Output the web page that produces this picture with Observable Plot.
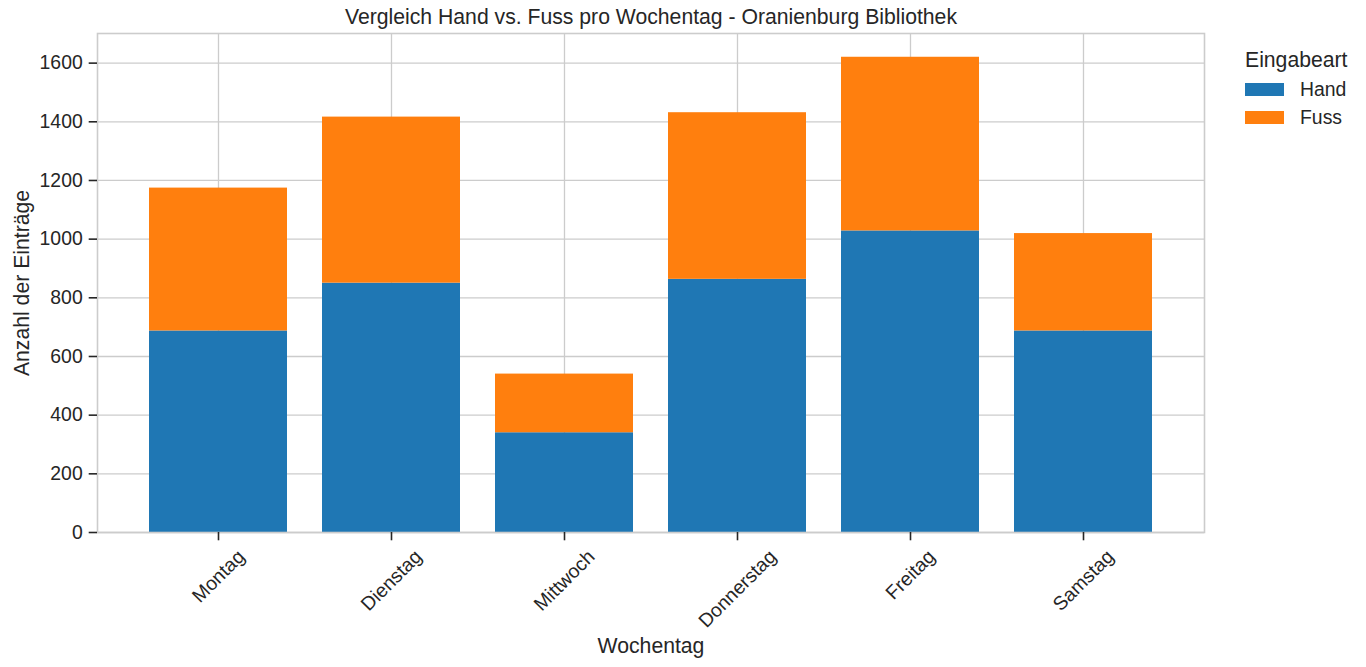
<!DOCTYPE html>
<html>
<head>
<meta charset="utf-8">
<script src="https://cdn.jsdelivr.net/npm/d3@7"></script>
<script src="https://cdn.jsdelivr.net/npm/@observablehq/plot@0.6"></script>
<style>
  html, body { margin: 0; padding: 0; background: #fff; }
  #wrap { position: relative; width: 1366px; height: 667px; overflow: hidden; font-family: "Liberation Sans", Arial, sans-serif; color: #262626; }
  #legend { position: absolute; left: 1245px; top: 44px; }
  #legend .ttl { font-size: 21.2px; line-height: 32px; height: 32px; white-space: nowrap; }
  #legend .row { display: flex; align-items: center; height: 27.5px; }
  #legend .sw { width: 39px; height: 13px; margin-right: 16px; }
  #legend .lb { font-size: 19.4px; }
</style>
</head>
<body>
<div id="wrap"></div>
<script>
const days = ["Montag", "Dienstag", "Mittwoch", "Donnerstag", "Freitag", "Samstag"];
const series = ["Hand", "Fuss"];
const handValues = [687, 850, 340, 863, 1028, 687];
const fussValues = [487, 566, 200, 568, 592, 332];
const colors = ["#1f77b4", "#ff7f0e"];
const yTicks = [0, 200, 400, 600, 800, 1000, 1200, 1400, 1600];
const titleText = "Vergleich Hand vs. Fuss pro Wochentag - Oranienburg Bibliothek";
const xLabel = "Wochentag";
const yLabel = "Anzahl der Einträge";
const legendTitle = "Eingabeart";

const data = [];
days.forEach((d, i) => {
  data.push({day: d, type: series[0], value: handValues[i]});
  data.push({day: d, type: series[1], value: fussValues[i]});
});

const FS = 19.4, FL = 21.2, INK = "#262626", GRID = "#cccccc";

const chart = Plot.plot({
  width: 1366,
  height: 667,
  marginLeft: 97,
  marginRight: 162,
  marginTop: 33,
  marginBottom: 135,
  style: {fontFamily: '"Liberation Sans", Arial, sans-serif', fontSize: FS + "px", color: INK, background: "white", overflow: "visible"},
  x: {domain: days, paddingInner: 0.2, paddingOuter: 0.288, axis: null, label: null},
  y: {domain: [0, 1701], axis: null, label: null},
  color: {domain: series, range: colors},
  marks: [
    Plot.gridY({ticks: yTicks, stroke: GRID, strokeOpacity: 1, strokeWidth: 1.3}),
    Plot.gridX({stroke: GRID, strokeOpacity: 1, strokeWidth: 1.3}),
    Plot.barY(data, {x: "day", y: "value", fill: "type", order: series}),
    Plot.frame({stroke: GRID, strokeWidth: 1.6}),
    Plot.axisY({ticks: yTicks, tickFormat: d => String(d), tickSize: 8.3, tickPadding: 6.5, label: null, stroke: INK, strokeWidth: 1.6, fontSize: FS, fill: INK}),
    Plot.axisX({tickSize: 8.3, tickFormat: () => "", label: null, stroke: INK, strokeWidth: 1.6}),
    Plot.text(days, {x: d => d, text: d => d, frameAnchor: "bottom", rotate: -45, textAnchor: "middle", lineAnchor: "middle", fontSize: FS, fill: INK, className: "xlab"}),
    Plot.text([titleText], {text: d => d, frameAnchor: "top", textAnchor: "middle", lineAnchor: "middle", dy: -16, fontSize: FL, fill: INK}),
    Plot.text([xLabel], {text: d => d, frameAnchor: "bottom", textAnchor: "middle", lineAnchor: "middle", dy: 114, fontSize: FL, fill: INK}),
    Plot.text([yLabel], {text: d => d, frameAnchor: "left", textAnchor: "middle", lineAnchor: "middle", dx: -75, rotate: -90, fontSize: FL, fill: INK})
  ]
});

const wrap = document.getElementById("wrap");
wrap.appendChild(chart);

// position rotated x tick labels like matplotlib (rotated bbox centered under tick, top below tick)
chart.querySelectorAll("g.xlab text").forEach(t => {
  const tr = t.getAttribute("transform") || "";
  const m = /translate\(\s*([-\d.e]+)\s*,\s*([-\d.e]+)\s*\)/.exec(tr);
  if (!m) return;
  const x = +m[1], y = +m[2];
  const w = t.getComputedTextLength();
  const H = (w + 1.15 * FS) * Math.SQRT1_2;
  t.setAttribute("transform", `translate(${x},${y + 8.3 + 4.9 + H / 2}) rotate(-45)`);
});

// legend
const lg = document.createElement("div");
lg.id = "legend";
const ttl = document.createElement("div");
ttl.className = "ttl";
ttl.textContent = legendTitle;
lg.appendChild(ttl);
series.forEach((s, i) => {
  const row = document.createElement("div");
  row.className = "row";
  const sw = document.createElement("div");
  sw.className = "sw";
  sw.style.background = colors[i];
  const lb = document.createElement("span");
  lb.className = "lb";
  lb.textContent = s;
  row.appendChild(sw);
  row.appendChild(lb);
  lg.appendChild(row);
});
wrap.appendChild(lg);
</script>
</body>
</html>
